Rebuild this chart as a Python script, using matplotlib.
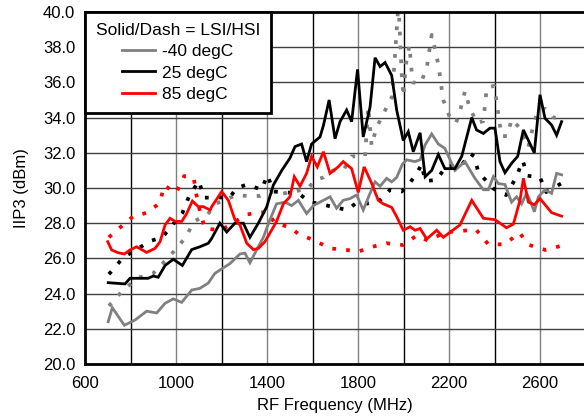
import matplotlib
matplotlib.use("Agg")
import matplotlib.pyplot as plt
from matplotlib.lines import Line2D

plt.rcParams['font.family'] = ['Liberation Sans', 'DejaVu Sans']

# ---------------- data ----------------
# -40 degC, LSI (solid)
f_m40_lsi = [702, 720, 773, 820, 871, 915, 952, 988, 1025, 1069, 1105, 1142, 1171, 1200,
             1237, 1281, 1303, 1325, 1355, 1384, 1413, 1442, 1479, 1508, 1538, 1574, 1604,
             1633, 1677, 1706, 1735, 1765, 1794, 1823, 1853, 1875, 1897, 1926, 1948, 1970,
             1995, 2014, 2050, 2073, 2095, 2124, 2153, 2182, 2226, 2270, 2314, 2351, 2373,
             2395, 2417, 2446, 2475, 2497, 2519, 2541, 2556, 2575, 2593, 2622, 2651, 2673, 2695]
v_m40_lsi = [22.4, 23.2, 22.2, 22.5, 23.0, 22.9, 23.45, 23.7, 23.5, 24.2, 24.3, 24.6, 25.15, 25.4,
             25.7, 26.25, 26.3, 25.75, 26.5, 27.2, 28.2, 29.1, 29.2, 29.0, 29.3, 28.55, 29.0,
             29.2, 29.5, 28.85, 29.3, 29.4, 29.6, 28.75, 29.7, 30.35, 30.1, 30.55, 30.35, 30.6,
             31.35, 31.6, 31.5, 31.6, 32.45, 33.07, 32.5, 32.25, 31.0, 31.5, 30.55, 29.9, 29.9,
             30.65, 30.25, 30.2, 29.2, 29.5, 29.1, 29.7, 29.3, 28.65, 29.5, 29.9, 29.7, 30.83, 30.75]

# 25 degC, LSI (solid)
f_p25_lsi = [702, 776, 798, 842, 878, 900, 922, 952, 988, 1028, 1069, 1105, 1142, 1157, 1193,
             1223, 1259, 1296, 1325, 1362, 1399, 1428, 1465, 1501, 1523, 1552, 1574, 1596, 1633,
             1648, 1673, 1699, 1721, 1750, 1772, 1798, 1823, 1853, 1875, 1897, 1919, 1948, 1970,
             1999, 2021, 2043, 2073, 2095, 2124, 2153, 2182, 2226, 2256, 2300, 2321, 2351, 2380,
             2402, 2424, 2446, 2475, 2502, 2527, 2575, 2600, 2622, 2651, 2673, 2695]
v_p25_lsi = [24.62, 24.55, 24.87, 24.87, 24.87, 25.0, 24.93, 25.6, 25.95, 25.6, 26.5, 26.66, 26.86,
             27.14, 28.0, 27.5, 28.0, 28.0, 27.2, 28.0, 28.94, 30.17, 31.0, 31.7, 32.35, 32.5,
             31.5, 32.5, 32.9, 33.55, 35.0, 32.8, 33.77, 34.43, 33.77, 36.74, 32.9, 34.6, 37.4,
             36.9, 37.13, 36.4, 34.43, 32.7, 33.2, 32.06, 33.14, 30.64, 31.0, 31.9, 31.1, 31.1,
             31.8, 34.0, 33.3, 33.1, 33.4, 33.4, 31.5, 30.87, 31.4, 31.8, 33.3, 32.0, 35.3, 33.96,
             33.58, 33.0, 33.77]

# 85 degC, LSI (solid)
f_p85_lsi = [700, 717, 746, 773, 798, 827, 871, 908, 930, 952, 974, 996, 1025, 1047, 1072,
             1098, 1120, 1150, 1157, 1201, 1230, 1259, 1281, 1311, 1340, 1362, 1391, 1420, 1442,
             1472, 1501, 1520, 1545, 1574, 1596, 1621, 1648, 1677, 1713, 1735, 1772, 1801, 1827,
             1860, 1889, 1911, 1948, 1970, 1999, 2029, 2051, 2073, 2102, 2146, 2175, 2248, 2300,
             2351, 2402, 2453, 2483, 2512, 2527, 2549, 2575, 2600, 2651, 2695]
v_p85_lsi = [26.95, 26.48, 26.32, 26.25, 26.48, 26.66, 26.34, 26.57, 26.95, 27.9, 28.28, 28.1, 28.1,
             28.55, 29.26, 28.94, 28.94, 28.75, 28.94, 29.8, 29.3, 28.2, 27.9, 26.86, 26.5, 26.57,
             26.95, 27.6, 28.1, 29.1, 29.5, 30.64, 30.1, 30.83, 31.8, 31.2, 32.06, 30.83, 31.2,
             31.5, 31.1, 29.75, 31.2, 30.27, 29.3, 29.1, 28.9, 28.37, 27.6, 27.8, 27.6, 27.7, 27.1,
             27.6, 27.2, 27.9, 29.3, 28.28, 28.2, 27.74, 27.95, 29.3, 30.55, 29.2, 29.05, 29.4,
             28.6, 28.4]

# -40 degC, HSI (dash)
f_m40_hsi = [705, 768, 834, 900, 984, 1043, 1079, 1139, 1179, 1266, 1311, 1369, 1413, 1457, 1523,
             1582, 1611, 1648, 1691, 1735, 1772, 1831, 1845, 1860, 1880, 1915, 1950, 1965, 1978,
             1992, 2000, 2010, 2026, 2040, 2075, 2102, 2124, 2140, 2155, 2165, 2175, 2204, 2231,
             2253, 2270, 2290, 2322, 2351, 2366, 2399, 2420, 2431, 2456, 2475, 2512, 2548, 2570,
             2590, 2622, 2660, 2695]
v_m40_hsi = [23.3, 24.2, 24.9, 25.15, 26.3, 27.2, 28.1, 28.5, 29.13, 29.6, 29.55, 29.55, 29.8, 29.66,
             29.8, 30.0, 30.45, 30.6, 31.0, 31.0, 31.8, 31.8, 34.6, 32.4, 33.4, 34.3, 35.2, 38.0,
             40.5, 36.5, 35.2, 37.0, 38.1, 36.0, 35.95, 36.8, 38.7, 37.8, 36.9, 35.9, 35.0, 34.0,
             33.7, 34.6, 35.5, 34.6, 33.7, 33.8, 35.7, 35.8, 33.9, 32.95, 32.95, 33.9, 33.4, 32.3,
             33.5, 34.4, 34.5, 34.0, 33.96]

# 25 degC, HSI (dash)
f_p25_hsi = [705, 768, 831, 890, 940, 1028, 1058, 1101, 1122, 1237, 1266, 1313, 1376, 1402, 1428,
             1538, 1589, 1633, 1684, 1754, 1787, 1860, 1889, 1941, 1992, 2021, 2057, 2080, 2095,
             2143, 2190, 2253, 2292, 2311, 2329, 2395, 2451, 2495, 2524, 2545, 2600, 2627, 2695]
v_p25_hsi = [25.1, 26.05, 26.55, 27.0, 27.2, 28.58, 29.55, 30.4, 29.45, 29.47, 30.0, 30.2, 29.9,
             30.74, 29.8, 29.7, 29.2, 29.1, 28.94, 28.75, 29.1, 29.13, 29.2, 29.9, 29.8, 30.17,
             30.8, 31.35, 30.4, 30.45, 31.25, 31.25, 31.96, 31.8, 30.9, 29.97, 29.6, 30.6, 31.55,
             30.7, 30.6, 29.77, 30.27]

# 85 degC, HSI (dash)
f_p85_hsi = [705, 758, 813, 875, 930, 947, 1001, 1036, 1078, 1089, 1105, 1127, 1198, 1311, 1402,
             1435, 1501, 1541, 1604, 1677, 1750, 1801, 1853, 1926, 1999, 2058, 2109, 2182, 2256,
             2318, 2373, 2446, 2509, 2553, 2624, 2694]
v_p85_hsi = [27.2, 27.8, 28.4, 28.6, 29.17, 30.14, 29.74, 30.68, 30.58, 29.66, 28.7, 27.7, 27.6,
             28.5, 28.65, 28.0, 27.77, 27.36, 27.05, 26.57, 26.48, 26.38, 26.63, 26.86, 26.76,
             27.3, 27.0, 27.48, 27.56, 27.65, 26.8, 26.8, 27.46, 26.76, 26.48, 26.72]

legend_title = "Solid/Dash = LSI/HSI"
legend_labels = ["-40 degC", "25 degC", "85 degC"]
colors = ["#808080", "#000000", "#ff0000"]

xticks = [600, 1000, 1400, 1800, 2200, 2600]
yticks = [20.0, 22.0, 24.0, 26.0, 28.0, 30.0, 32.0, 34.0, 36.0, 38.0, 40.0]

# ---------------- figure ----------------
fig = plt.figure(figsize=(5.84, 4.2), dpi=100)
ax = fig.add_axes([85 / 584, 56 / 420, 500.5 / 584, 352 / 420])

ax.set_xlim(600, 2800)
ax.set_ylim(20, 40)

# grid: labeled verticals gray, intermediate black
for x in range(800, 2800, 200):
    c = "#808080" if x in xticks else "#000000"
    ax.axvline(x, color=c, lw=1.0, zorder=1)
for y in yticks[1:-1]:
    ax.axhline(y, color="#404040", lw=1.0, zorder=1)

lw_s = 2.0
lw_d = 2.7
dot = (0, (1.0, 2.7))

series = [
    (f_m40_hsi, v_m40_hsi, colors[0], dot, lw_d),
    (f_p25_hsi, v_p25_hsi, colors[1], dot, lw_d),
    (f_p85_hsi, v_p85_hsi, colors[2], dot, lw_d),
    (f_m40_lsi, v_m40_lsi, colors[0], '-', lw_s),
    (f_p25_lsi, v_p25_lsi, colors[1], '-', lw_s),
    (f_p85_lsi, v_p85_lsi, colors[2], '-', lw_s),
]
for fx, vy, c, ls, lw in series:
    ax.plot(fx, vy, color=c, linestyle=ls, lw=lw, zorder=3, solid_joinstyle='miter')

ax.set_xticks(xticks)
ax.set_xticklabels([str(t) for t in xticks])
ax.set_yticks(yticks)
ax.set_yticklabels([f"{t:.1f}" for t in yticks])
ax.tick_params(axis='both', length=0, labelsize=12, colors='black')
ax.tick_params(axis='x', pad=9)
ax.tick_params(axis='y', pad=7)

for s in ax.spines.values():
    s.set_linewidth(2.0)
    s.set_color('black')
    s.set_zorder(5)

ax.set_xlabel("RF Frequency (MHz)", fontsize=12, labelpad=5)
ax.set_ylabel("IIP3 (dBm)", fontsize=12, labelpad=10)

handles = [Line2D([], [], color=c, lw=lw_s) for c in colors]
leg = ax.legend(handles, legend_labels, title=legend_title, loc='upper left',
                bbox_to_anchor=(0, 1), borderaxespad=0, fancybox=False,
                framealpha=1, edgecolor='black', fontsize=12.5, title_fontsize=12.5,
                handlelength=1.9, handletextpad=0.4, labelspacing=0.36, borderpad=0.62)
leg.get_frame().set_linewidth(2.0)
leg.set_zorder(10)

fig.savefig("out.png", dpi=100)
